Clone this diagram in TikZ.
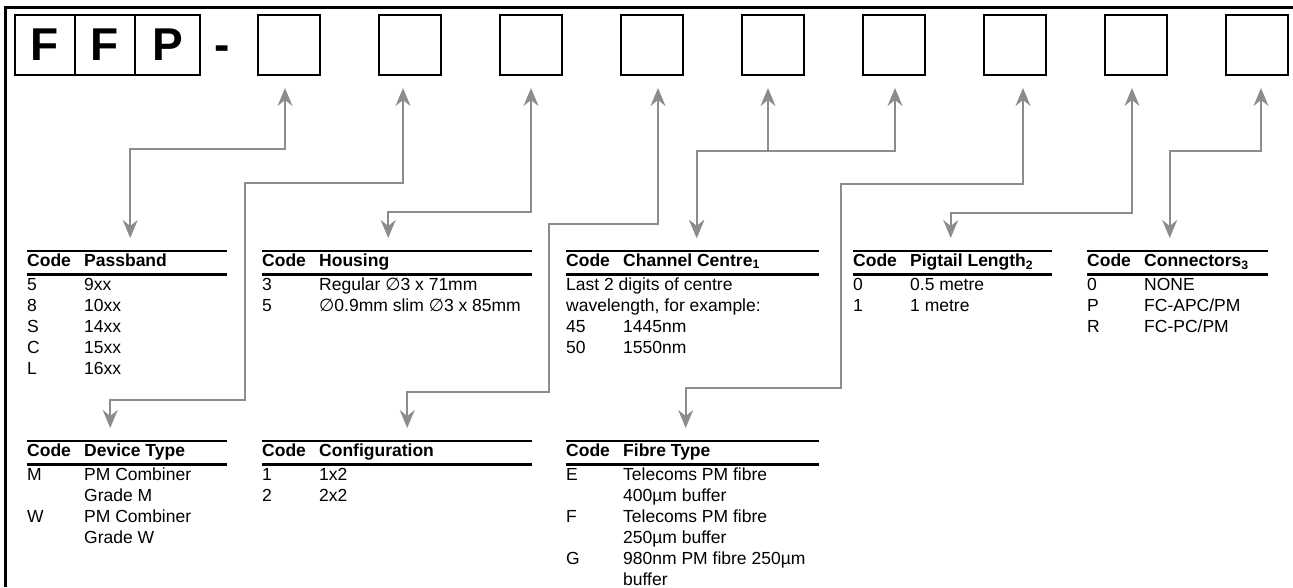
\documentclass[tikz,border=0pt]{standalone}
\usepackage{fontspec}
\setmainfont{Liberation Sans}
\newfontfamily\diafont{DejaVu Sans}
\usetikzlibrary{positioning,arrows.meta}

\newcommand{\dia}{{\diafont ∅}}
% code table: width of 2nd column, heading, rows
\newcommand{\codetab}[3]{%
  \begin{tabular}{@{}p{57pt}@{}p{#1}@{}}
  \noalign{\hrule height 1.5pt}
  \textbf{Code} & \textbf{#2}\\
  \noalign{\hrule height 3pt}
  #3
  \end{tabular}}

\begin{document}
\begin{tikzpicture}[x=1pt, y=1pt,
  box/.style = {draw, line width=2.5pt, minimum width=62pt,
    minimum height=60pt, inner sep=0pt, outer sep=0pt},
  letter/.style = {box, minimum width=60pt,
    font=\fontsize{46}{46}\selectfont\bfseries},
  tab/.style = {anchor=north west, inner sep=0pt,
    font=\fontsize{17.5}{21}\selectfont},
  link/.style = {draw=black!45, line width=1.6pt,
    {Stealth[length=18pt,width=15pt,inset=6pt]}-{Stealth[length=18pt,width=15pt,inset=6pt]},
    shorten <=13pt, shorten >=12pt}]
  \useasboundingbox (0,0) rectangle (1293,-587);
  \draw[line width=3pt] (5,-587) |- (1293,-7);

  % part number boxes
  \node[letter] (f1) at (45,-45) {F};
  \node[letter, right=0pt of f1] (f2) {F};
  \node[letter, minimum width=65pt, right=0pt of f2] (p) {P};
  \node[inner sep=0pt, font=\fontsize{46}{46}\selectfont\bfseries,
    base right=14pt of p] (dash) {-};
  \node[box] (b1) at (289,-45) {};
  \node[box, right=59pt of b1] (b2) {};
  \node[box, right=59pt of b2] (b3) {};
  \node[box, right=59pt of b3] (b4) {};
  \node[box, right=59pt of b4] (b5) {};
  \node[box, right=59pt of b5] (b6) {};
  \node[box, right=59pt of b6] (b7) {};
  \node[box, right=59pt of b7] (b8) {};
  \node[box, right=59pt of b8] (b9) {};

  % code tables
  \node[tab] (tPass) at (27,-250) {\codetab{143pt}{Passband}{%
    5 & 9xx\\ 8 & 10xx\\ S & 14xx\\ C & 15xx\\ L & 16xx}};
  \node[tab] (tHouse) at (262,-250) {\codetab{213pt}{Housing}{%
    3 & Regular \dia3 x 71mm\\ 5 & \dia0.9mm slim \dia3 x 85mm}};
  \node[tab] (tChan) at (566,-250) {\codetab{196pt}{Channel Centre\textsubscript{1}}{%
    \multicolumn{2}{@{}l@{}}{Last 2 digits of centre}\\
    \multicolumn{2}{@{}l@{}}{wavelength, for example:}\\
    45 & 1445nm\\ 50 & 1550nm}};
  \node[tab] (tPig) at (853,-250) {\codetab{142pt}{Pigtail Length\textsubscript{2}}{%
    0 & 0.5 metre\\ 1 & 1 metre}};
  \node[tab] (tConn) at (1087,-250) {\codetab{124pt}{Connectors\textsubscript{3}}{%
    0 & NONE\\ P & FC-APC/PM\\ R & FC-PC/PM}};
  \node[tab] (tDev) at (27,-440) {\codetab{143pt}{Device Type}{%
    M & PM Combiner\\ & Grade M\\ W & PM Combiner\\ & Grade W}};
  \node[tab] (tConf) at (262,-440) {\codetab{213pt}{Configuration}{%
    1 & 1x2\\ 2 & 2x2}};
  \node[tab] (tFib) at (566,-440) {\codetab{196pt}{Fibre Type}{%
    E & Telecoms PM fibre\\ & 400µm buffer\\
    F & Telecoms PM fibre\\ & 250µm buffer\\
    G & 980nm PM fibre 250µm\\ & buffer}};

  % arrows from boxes to tables
  \draw[link] ([xshift=-4pt]b1.south) -- ++(0,-74) -| ([xshift=3pt]tPass.north);
  \draw[link] ([xshift=-7pt]b2.south) -- ++(0,-108) -- ++(-158,0)
    -- ++(0,-217) -| ([xshift=-17pt]tDev.north);
  \draw[link] (b3.south) -- ++(0,-137) -| ([xshift=-9pt]tHouse.north);
  \draw[link] ([xshift=6pt]b4.south) -- ++(0,-149) -- ++(-109,0)
    -- ++(0,-168) -| ([xshift=10pt]tConf.north);
  \draw[link] ([xshift=-5pt]b5.south) -- ++(0,-76) -| ([xshift=4pt]tChan.north);
  \draw[link] ([xshift=1pt]b6.south) -- ++(0,-76) -| ([xshift=4pt]tChan.north);
  \draw[link] ([xshift=8pt]b7.south) -- ++(0,-109) -- ++(-182,0)
    -- ++(0,-204) -| ([xshift=-7pt]tFib.north);
  \draw[link] ([xshift=-4pt]b8.south) -- ++(0,-138) -| ([xshift=-2pt]tPig.north);
  \draw[link] ([xshift=4pt]b9.south) -- ++(0,-76) -| ([xshift=-8pt]tConn.north);
\end{tikzpicture}
\end{document}
